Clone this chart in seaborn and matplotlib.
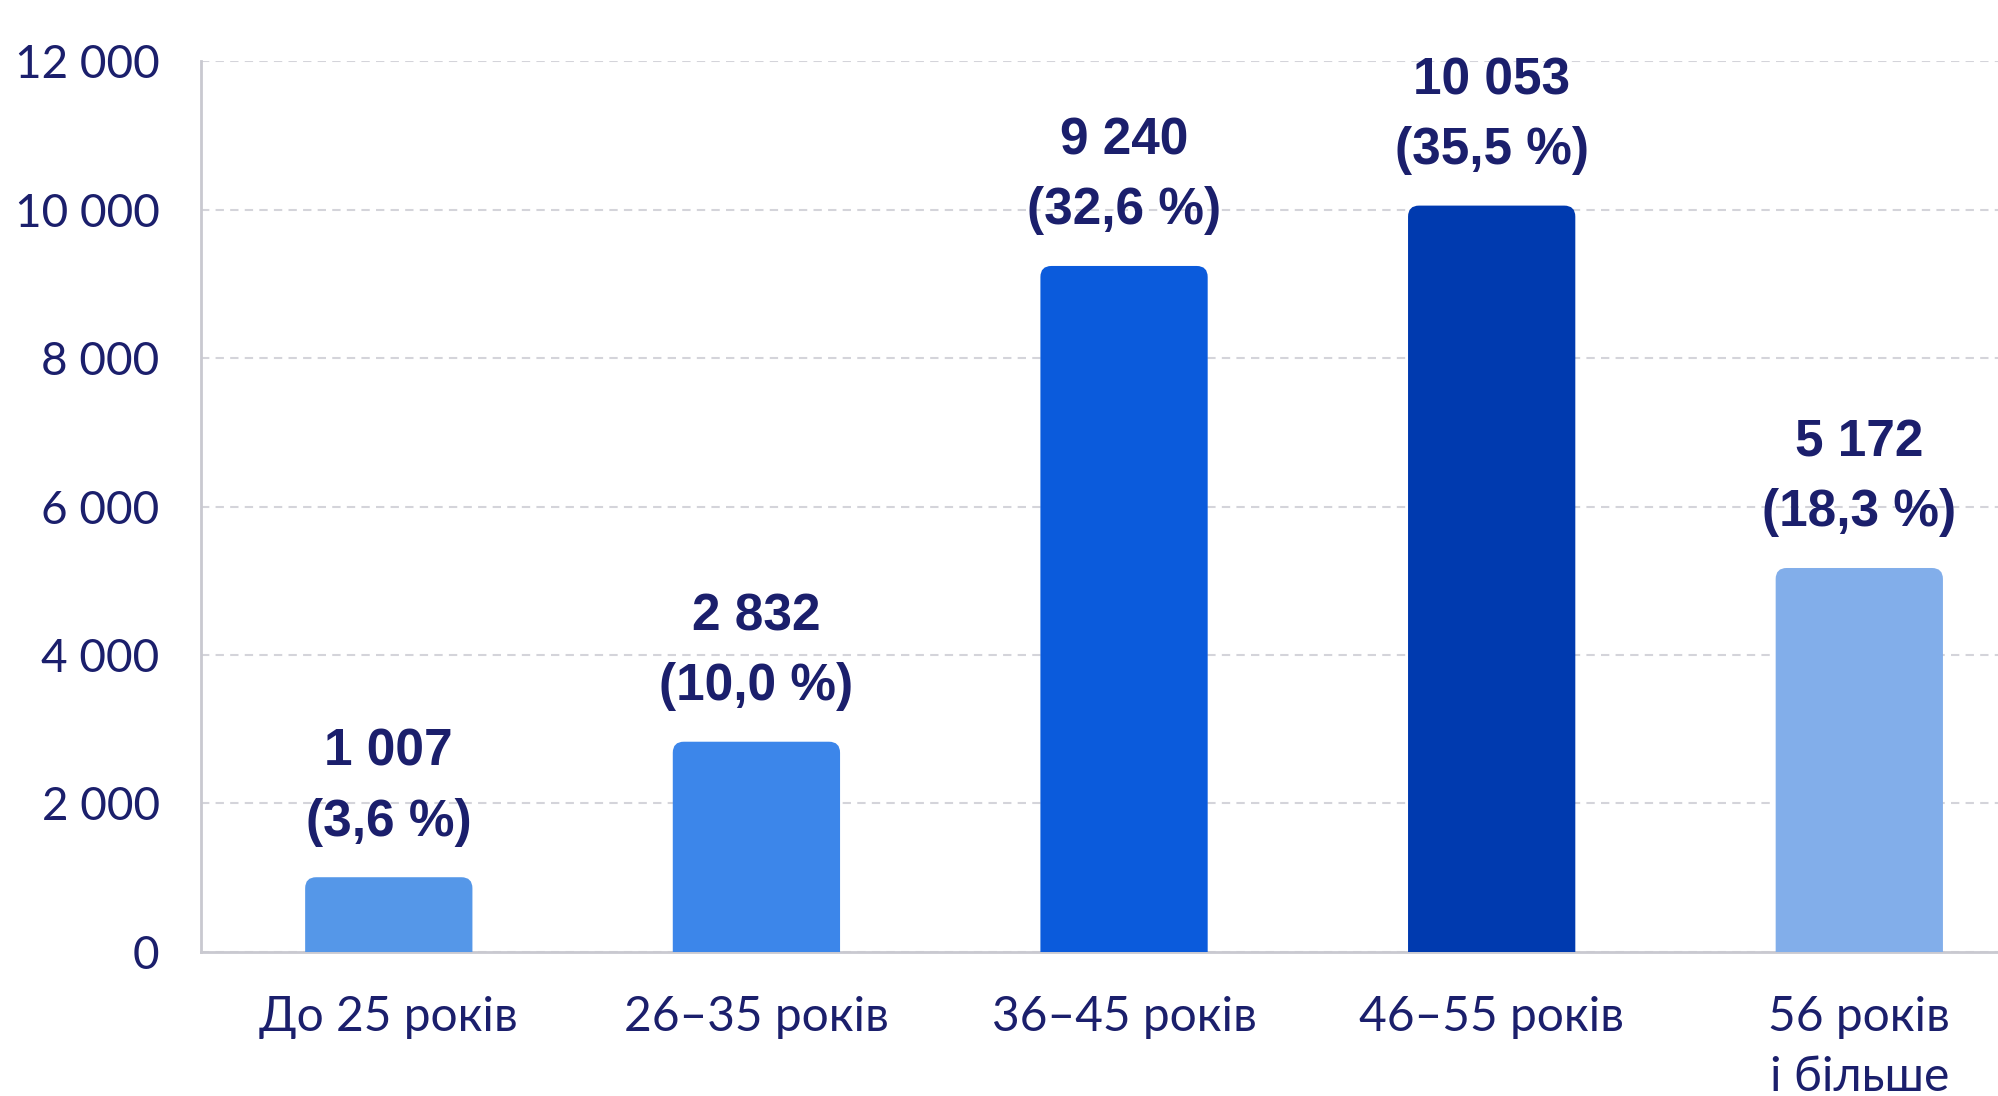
import matplotlib
matplotlib.use("Agg")
import matplotlib.pyplot as plt
from matplotlib.patches import FancyBboxPatch
import seaborn as sns
import pandas as pd

# Age groups, counts and shares
categories = ["До 25 років", "26–35 років", "36–45 років", "46–55 років", "56 років\nі більше"]
counts = [1007, 2832, 9240, 10053, 5172]
shares = ["3,6", "10,0", "32,6", "35,5", "18,3"]
bar_colors = ["#5597E8", "#3C86EA", "#0B5BDC", "#003AAF", "#82AEEA"]
y_ticks = [0, 2000, 4000, 6000, 8000, 10000, 12000]

NAVY = "#1B1F6C"

sns.set_theme(style="white")
plt.rcParams["font.family"] = ["Lato", "DejaVu Sans"]

df = pd.DataFrame({"group": categories, "count": counts})

fig = plt.figure(figsize=(19.99, 10.96), dpi=100)
ax = fig.add_axes([0.1007, 0.1314, 0.8993, 0.8129])

sns.barplot(data=df, x="group", y="count", hue="group", palette=bar_colors,
            saturation=1, legend=False, width=0.455, ax=ax, zorder=3)

ax.set_xlim(-0.51, 4.38)
ax.set_ylim(0, 12000)

# Rounded top corners: rebuild each bar from its own geometry
fig.canvas.draw()
x_per_px = (ax.get_xlim()[1] - ax.get_xlim()[0]) / ax.bbox.width
y_per_px = (ax.get_ylim()[1] - ax.get_ylim()[0]) / ax.bbox.height
aspect = y_per_px / x_per_px
r = 11 * x_per_px
bars = sorted(ax.patches, key=lambda p: p.get_x())
for p, n, s in zip(bars, counts, shares):
    x0, w = p.get_x(), p.get_width()
    h = p.get_height()
    fc = p.get_facecolor()
    p.remove()
    ext = r * aspect
    fb = FancyBboxPatch((x0, -ext), w, h + ext,
                        boxstyle=f"round,pad=0,rounding_size={r}",
                        mutation_aspect=aspect,
                        facecolor=fc, edgecolor="none", zorder=3, clip_on=True)
    ax.add_patch(fb)
    label = f"{n:,}".replace(",", " ") + f"\n({s} %)"
    ax.annotate(label, xy=(x0 + w / 2, h), xytext=(0, 22), textcoords="offset points",
                ha="center", va="bottom", fontsize=37, fontweight="bold",
                color=NAVY, linespacing=1.55,
                family=["Liberation Sans", "DejaVu Sans"], zorder=4)

ax.set_yticks(y_ticks)
ax.set_yticklabels([f"{v:,}".replace(",", " ") for v in y_ticks])
ax.yaxis.grid(True, linestyle=(0, (4, 3)), color="#d4d4da", linewidth=1.5, zorder=0)
ax.xaxis.grid(False)

ax.set_xlabel("")
ax.set_ylabel("")
ax.tick_params(axis="y", length=0, pad=30, labelsize=33, labelcolor=NAVY)
ax.tick_params(axis="x", length=0, pad=31, labelsize=34.5, labelcolor=NAVY)
ax.set_xticks(range(len(categories)))
ax.set_xticklabels(categories, va="top", linespacing=1.45)
ax.set_xticks([0.5, 1.5, 2.5, 3.5], minor=True)
ax.tick_params(axis="x", which="minor", length=5, width=1.5, color="#cfcfd6")

for side in ["top", "right"]:
    ax.spines[side].set_visible(False)
ax.spines["left"].set_color("#c9c9d0")
ax.spines["left"].set_linewidth(2)
ax.spines["bottom"].set_color("#c9c9d0")
ax.spines["bottom"].set_linewidth(2)

fig.savefig("out.png", dpi=100, facecolor="white")
